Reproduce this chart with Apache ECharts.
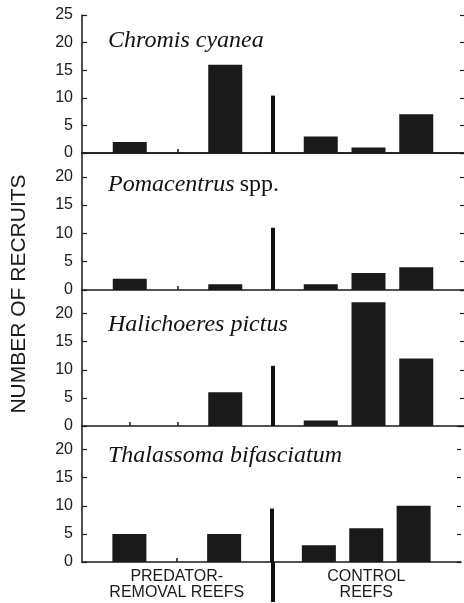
<!DOCTYPE html>
<html><head><meta charset="utf-8">
<script src="https://cdn.jsdelivr.net/npm/echarts@6/dist/echarts.min.js"></script>
<style>html,body{margin:0;padding:0;background:#fff}#c{width:464px;height:603px}</style>
</head><body><div id="c"></div>
<script>
// ---- data ----
const slots = ['L', 'PR1', 'PR2', 'PR3', 'DIV', 'C1', 'C2', 'C3', 'R'];
const reefSlots = ['PR1', 'PR2', 'PR3', 'C1', 'C2', 'C3'];
const groupLabels = { PR2: 'PREDATOR-\nREMOVAL REEFS', C2: 'CONTROL\nREEFS' };
const speciesNames = ['Chromis cyanea', 'Pomacentrus spp.', 'Halichoeres pictus', 'Thalassoma bifasciatum'];
const chromisCyanea = [2, 0, 16, 3, 1, 7];
const pomacentrusSpp = [2, 0, 1, 1, 3, 4];
const halichoeresPictus = [0, 0, 6, 1, 22, 12];
const thalassomaBifasciatum = [5, 0, 5, 3, 6, 10];
const dividerHeights = [10.4, 11, 10.7, 9.5];
const yMaxes = [25, 24.2, 24.2, 24.2];
const yInterval = 5;
const yAxisTitle = 'NUMBER OF RECRUITS';

// ---- layout ----
const panelValues = [chromisCyanea, pomacentrusSpp, halichoeresPictus, thalassomaBifasciatum];
const tops = [15, 153, 290, 426];
const heights = [138, 137, 136, 136];
const titleTops = [29, 173, 313, 444];
const INK = '#1a1a1a';
const SANS = '"Liberation Sans", Arial, sans-serif';
const SERIF = '"Liberation Serif", "Times New Roman", serif';

const grid = [], xAxis = [], yAxis = [], series = [], title = [];
panelValues.forEach((vals, i) => {
  const data = slots.map(s => { const k = reefSlots.indexOf(s); return k >= 0 ? vals[k] : null; });
  grid.push({ left: 82, right: -2, top: tops[i], height: heights[i] });
  xAxis.push({
    type: 'category', gridIndex: i, data: slots, boundaryGap: false,
    axisLine: { show: true, lineStyle: { color: INK, width: 1.5 } },
    axisTick: { show: true, inside: true, length: 4, interval: (idx) => data[idx] === 0, lineStyle: { color: INK, width: 1.5 } },
    axisLabel: {
      show: i === 3, interval: 0, margin: 7,
      formatter: v => groupLabels[v] || '',
      fontFamily: SANS, fontSize: 16, lineHeight: 16, color: '#1a1a1a'
    },
    splitLine: { show: false }
  });
  series.push({
    type: 'bar', xAxisIndex: i, yAxisIndex: i, data: data, barWidth: 34,
    itemStyle: { color: INK }, silent: true, animation: false,
    markLine: {
      silent: true, symbol: 'none', animation: false,
      label: { show: false },
      lineStyle: { color: '#111', width: 4, type: 'solid' },
      data: [[{ coord: ['DIV', 0] }, { coord: ['DIV', dividerHeights[i]] }]]
    }
  });
  const name = speciesNames[i];
  const parts = name.split(' ');
  const text = parts[1] === 'spp.' ? '{i|' + parts[0] + '} {n|spp.}' : '{i|' + name + '}';
  title.push({
    text: text, left: 108, top: titleTops[i], padding: 0,
    textStyle: {
      fontWeight: 'normal',
      rich: {
        i: { fontFamily: SERIF, fontStyle: 'italic', fontWeight: 'normal', fontSize: 24, color: '#111' },
        n: { fontFamily: SERIF, fontStyle: 'normal', fontWeight: 'normal', fontSize: 24, color: '#111' }
      }
    }
  });
});
// left y axes
panelValues.forEach((v, i) => {
  yAxis.push({
    type: 'value', gridIndex: i, min: 0, max: yMaxes[i], interval: yInterval,
    axisLine: { show: true, lineStyle: { color: INK, width: 1.5 } },
    axisTick: { show: true, inside: true, length: 5, lineStyle: { color: INK, width: 1.2 } },
    axisLabel: { show: true, margin: 9, showMaxLabel: i === 0, fontFamily: SANS, fontSize: 16, color: '#1a1a1a' },
    splitLine: { show: false }
  });
});
// right y axes (ticks only)
panelValues.forEach((v, i) => {
  yAxis.push({
    type: 'value', gridIndex: i, position: 'right', min: 0, max: yMaxes[i], interval: yInterval,
    axisLine: { show: false },
    axisTick: { show: true, inside: true, length: 4, lineStyle: { color: INK, width: 1.2 } },
    axisLabel: { show: false }, splitLine: { show: false }
  });
});
// top border of the first panel
xAxis.push({
  type: 'category', gridIndex: 0, position: 'top', data: slots, boundaryGap: false,
  axisLine: { show: true, lineStyle: { color: INK, width: 1.5 } },
  axisTick: { show: false }, axisLabel: { show: false }
});
// extension of the divider below the last panel
grid.push({ left: 82, right: -2, top: 562, height: 40 });
xAxis.push({ type: 'category', gridIndex: 4, data: slots, boundaryGap: false, show: false });
yAxis.push({ type: 'value', gridIndex: 4, min: 0, max: 1, show: false });
series.push({
  type: 'bar', xAxisIndex: 5, yAxisIndex: 8, barWidth: 4, silent: true, animation: false,
  data: slots.map(s => s === 'DIV' ? 1 : null), itemStyle: { color: '#111' }
});

const chart = echarts.init(document.getElementById('c'), null, { renderer: 'canvas' });
chart.setOption({
  animation: false,
  backgroundColor: '#fff',
  title: title,
  grid: grid, xAxis: xAxis, yAxis: yAxis, series: series,
  graphic: [{
    type: 'text', x: 19, y: 294, rotation: Math.PI / 2,
    style: { text: yAxisTitle, fontFamily: SANS, fontSize: 21, fill: '#1a1a1a', align: 'center', verticalAlign: 'middle' }
  }]
});
</script></body></html>
